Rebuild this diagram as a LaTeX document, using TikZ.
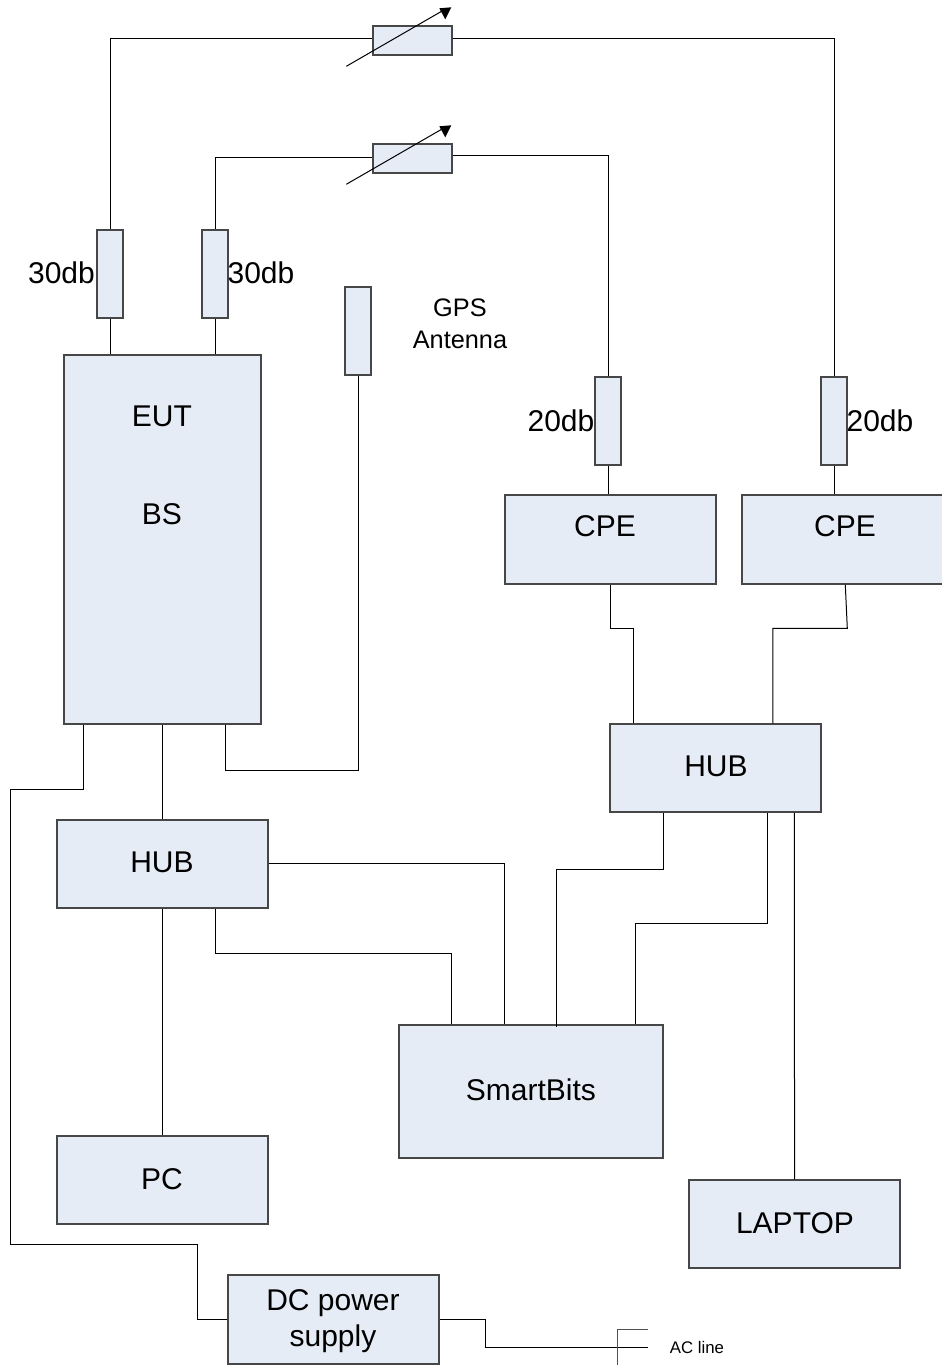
\documentclass[tikz,border=0pt]{standalone}
\usepackage{fontspec}
\setmainfont{Liberation Sans}
\usetikzlibrary{calc}
\tikzset{
  boxs/.style={draw=black!72,line width=1.15pt,fill=boxfill,inner sep=0pt,anchor=north west},
  wire/.style={draw=black,line width=0.75pt,line join=miter},
  lab/.style={inner sep=0pt,align=center,xshift=0.5pt,yshift=-0.7pt,font=\fontsize{22.5}{27}\selectfont},
  small/.style={inner sep=0pt,xshift=0.5pt,yshift=-0.5pt,font=\fontsize{19}{24}\selectfont},
  tiny/.style={inner sep=0pt,xshift=0.5pt,yshift=-0.5pt,font=\fontsize{12.6}{15}\selectfont},
  tip/.style={fill=black,draw=none}
}
\definecolor{boxfill}{HTML}{E6ECF6}
\newcommand{\bx}[6]{\node[boxs,minimum width={(#4-#2)*0.75pt},minimum height={(#5-#3)*0.75pt}] (#1) at (#2,#3) {#6};}
\begin{document}
\begin{tikzpicture}[x=0.75pt,y=-0.75pt]
\useasboundingbox (0.7,0.7) rectangle (942.7,1365.7);
\clip (0.7,0.7) rectangle (942.7,1365.7);
% boxes
\bx{att1}{373}{26}{452}{55}{}
\bx{att2}{373}{144}{452}{173}{}
\bx{pl}{97}{230}{123}{318}{}
\bx{pr}{202}{230}{228}{318}{}
\bx{gps}{345}{287}{371}{375}{}
\bx{eut}{64}{355}{261}{724}{}
\bx{ql}{595}{377}{621}{465}{}
\bx{qr}{821}{377}{847}{465}{}
\bx{cpel}{505}{495}{716}{584}{}
\bx{cper}{742}{495}{948}{584}{}
\bx{hubr}{610}{724}{821}{812}{}
\bx{hubl}{57}{820}{268}{908}{}
\bx{sb}{399}{1025}{663}{1158}{}
\bx{pc}{57}{1136}{268}{1224}{}
\bx{lap}{689}{1180}{900}{1268}{}
\bx{dc}{228}{1275}{439}{1364}{}
% labels
\node[lab] (t30l) at (61.5,273) {30db};
\node[lab] (t30r) at (261,273) {30db};
\node[lab] (t20l) at (561,421) {20db};
\node[lab] (t20r) at (880,421) {20db};
\node[small] (tgps) at (460,308) {GPS};
\node[small] (tant) at (460,340) {Antenna};
\node[lab] (teut) at (162,416) {EUT};
\node[lab] (tbs) at (162,514) {BS};
\node[lab] (tcl) at (605,526) {CPE};
\node[lab] (tcr) at (845,526) {CPE};
\node[lab] (thr) at (716,766) {HUB};
\node[lab] (thl) at (162,862) {HUB};
\node[lab] (tsb) at (531,1090) {SmartBits};
\node[lab] (tpc) at (162,1179) {PC};
\node[lab] (tlap) at (795,1223) {LAPTOP};
\node[lab] (tdc) at (333,1321) {DC power\\supply};
\node[tiny] (tac) at (697,1348) {AC line};
% coordinates
\coordinate (a1s) at (347,67); \coordinate (a1e) at (444,11);
\coordinate (a2s) at (347,185); \coordinate (a2e) at (444,129);
\coordinate (acend) at (649,1348);
\coordinate (actop) at (649,1330);
\coordinate (acbot) at (618,1367);
% connectors
\draw[wire] ($(att1.west)+(0,-2.5)$) -| (pl.north);
\draw[wire] ($(att1.east)+(0,-2.5)$) -| (qr.north);
\draw[wire] ($(att2.west)+(0,-1.5)$) -| (pr.north);
\draw[wire] ($(att2.east)+(0,-3)$) -| (ql.north);
\draw[wire] (pl.south) -- (pl.south |- eut.north);
\draw[wire] (pr.south) -- (pr.south |- eut.north);
\draw[wire] (ql.south) -- (ql.south |- cpel.north);
\draw[wire] (qr.south) -- (qr.south |- cper.north);
\draw[wire] (gps.south) -- ++(0,394.5) -| ($(eut.south west)+(162,0)$);
\draw[wire] ($(eut.south west)+(20.5,0)$) -- ++(0,64.5) -- ++(-73,0) -- ++(0,455) -- ++(187,0) |- (dc.west);
\draw[wire] (eut.south) -- (hubl.north);
\draw[wire] (hubl.south) -- (pc.north);
\draw[wire] ($(hubl.south west)+(159,0)$) -- ++(0,44.5) -| ($(sb.north west)+(53.5,0)$);
\draw[wire] ($(hubl.east)+(0,-0.5)$) -| ($(sb.north west)+(106,0)$);
\draw[wire] ($(hubr.south west)+(54.5,0)$) -- ++(0,56.5) -| ($(sb.north west)+(158.5,3)$);
\draw[wire] ($(hubr.south west)+(158.5,0)$) -- ++(0,110.5) -| ($(sb.north west)+(237.5,0)$);
\draw[wire] ($(hubr.south west)+(185,0)$) -- (lap.north);
\draw[wire] (cpel.south) -- ++(0,43.5) -| ($(hubr.north west)+(24.5,0)$);
\draw[wire] ($(cper.south west)+(104,0)$) -- ++(2,43.5) -| ($(hubr.north west)+(163.5,0)$);
\draw[wire] (dc.east) -- ++(45.5,0) |- (acend);
\draw[draw=black!68,line width=0.9pt] (actop) -| (acbot);
% variable-attenuator arrows
\draw[wire] (a1s) -- (a1e);
\draw[wire] (a2s) -- (a2e);
\fill[tip] (a1e) ++(-4,-2) -- ++(12,-1) -- ++(-6,12) -- cycle;
\fill[tip] (a2e) ++(-4,-2) -- ++(12,-1) -- ++(-6,12) -- cycle;
\end{tikzpicture}
\end{document}
